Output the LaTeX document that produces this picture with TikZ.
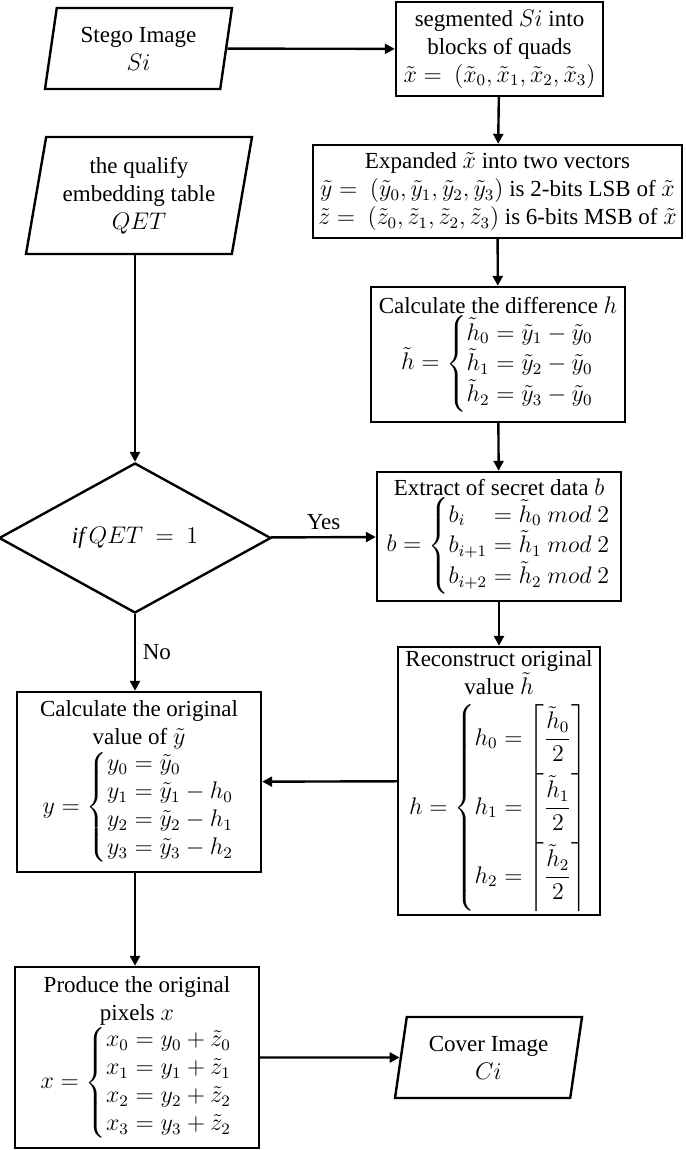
\documentclass[tikz,border=0pt]{standalone}
\usepackage{amsmath}
\usepackage{amssymb}
\usepackage{fontspec}
\setmainfont{Liberation Serif}
\usetikzlibrary{shapes.geometric,arrows.meta}
\newcommand{\rows}[1]{\left\{\begin{array}{@{}l@{}}#1\end{array}\right.}

\begin{document}
\begin{tikzpicture}[x=0.5pt,y=-0.5pt,
  font=\fontsize{11.5}{14}\selectfont,
  line width=1.2pt, >={Triangle[length=5pt,width=5pt]},
  proc/.style={rectangle, draw, align=center, inner sep=1pt},
  io/.style={trapezium, trapezium left angle=76, trapezium right angle=104,
    trapezium stretches body, draw, align=center, inner sep=1pt},
  dec/.style={diamond, draw, inner sep=0pt, aspect=1.8}]
\useasboundingbox (0,0) rectangle (685,1150);

\node (si) at (138.5,48.5) [io, minimum width=93.5pt, minimum height=40.5pt] {Stego Image\\ $Si$};
\node (seg) at (499.5,49) [proc, minimum width=103.5pt, minimum height=47pt]
  {segmented $Si$ into\\ blocks of quads\\ $\tilde{x} =\ (\tilde{x}_0,\tilde{x}_1,\tilde{x}_2,\tilde{x}_3)$} edge[<-] (si);

\node (exp) at (497.5,191.5) [proc, minimum width=184.5pt, minimum height=46.5pt]
  {Expanded $\tilde{x}$ into two vectors\\
   $\tilde{y} =\ (\tilde{y}_0,\tilde{y}_1,\tilde{y}_2,\tilde{y}_3)$ is 2-bits LSB of $\tilde{x}$\\
   $\tilde{z} =\ (\tilde{z}_0,\tilde{z}_1,\tilde{z}_2,\tilde{z}_3)$ is 6-bits MSB of $\tilde{x}$} edge[<-] (seg);

\node (qet) at (139,195.5) [io, minimum width=113pt, minimum height=58.5pt]
  {the qualify\\ embedding table\\ $QET$};

\node (diff) at (498,354.5) [proc, minimum width=127pt, minimum height=67.5pt]
  {Calculate the difference $h$\\
   $\tilde{h} = \rows{\tilde{h}_0 = \tilde{y}_1 - \tilde{y}_0\\ \tilde{h}_1 = \tilde{y}_2 - \tilde{y}_0\\ \tilde{h}_2 = \tilde{y}_3 - \tilde{y}_0}$} edge[<-] (exp);

\node (q) at (135,538) [dec, minimum width=136pt, minimum height=75pt] {$\mathit{if}\,QET\ =\ 1$};
\draw[->] (qet.south -| q.north) -- (q.north);

\node (ext) at (499,536.5) [proc, minimum width=122pt, minimum height=64.5pt]
  {Extract of secret data $b$\\
   $b = \left\{\begin{array}{@{}l@{\;}l@{}}
     b_i & = \tilde{h}_0\ mod\ 2\\
     b_{i+1} & = \tilde{h}_1\ mod\ 2\\
     b_{i+2} & = \tilde{h}_2\ mod\ 2
   \end{array}\right.$} edge[<-] (diff) edge[<-] node[above] {Yes} (q);

\node (rec) at (499,781) [proc, minimum width=101pt, minimum height=134pt]
  {Reconstruct original\\ value $\tilde{h}$\\[4pt]
   $h = \rows{h_0 = \left\lceil\dfrac{\tilde{h}_0}{2}\right\rceil\\[8pt]
     h_1 = \left\lceil\dfrac{\tilde{h}_1}{2}\right\rceil\\[8pt]
     h_2 = \left\lceil\dfrac{\tilde{h}_2}{2}\right\rceil}$} edge[<-] (ext);

\node (orig) at (139,782) [proc, minimum width=122pt, minimum height=90pt]
  {Calculate the original\\ value of $\tilde{y}$\\
   $y = \rows{y_0 = \tilde{y}_0\\ y_1 = \tilde{y}_1 - h_0\\ y_2 = \tilde{y}_2 - h_1\\ y_3 = \tilde{y}_3 - h_2}$} edge[<-] (rec);
\draw[->] (q.south) -- node[right] {No} (q.south |- orig.north);

\node (prod) at (137,1057.5) [proc, minimum width=122pt, minimum height=90.5pt]
  {Produce the original\\ pixels $x$\\
   $x = \rows{x_0 = y_0 + \tilde{z}_0\\ x_1 = y_1 + \tilde{z}_1\\ x_2 = y_2 + \tilde{z}_2\\ x_3 = y_3 + \tilde{z}_2}$};
\draw[->] (orig.south -| q.south) -- (prod.north -| q.south);

\node (ci) at (488.5,1057.5) [io, minimum width=93.5pt, minimum height=40.5pt] {Cover Image\\ $Ci$} edge[<-] (prod);
\end{tikzpicture}
\end{document}
